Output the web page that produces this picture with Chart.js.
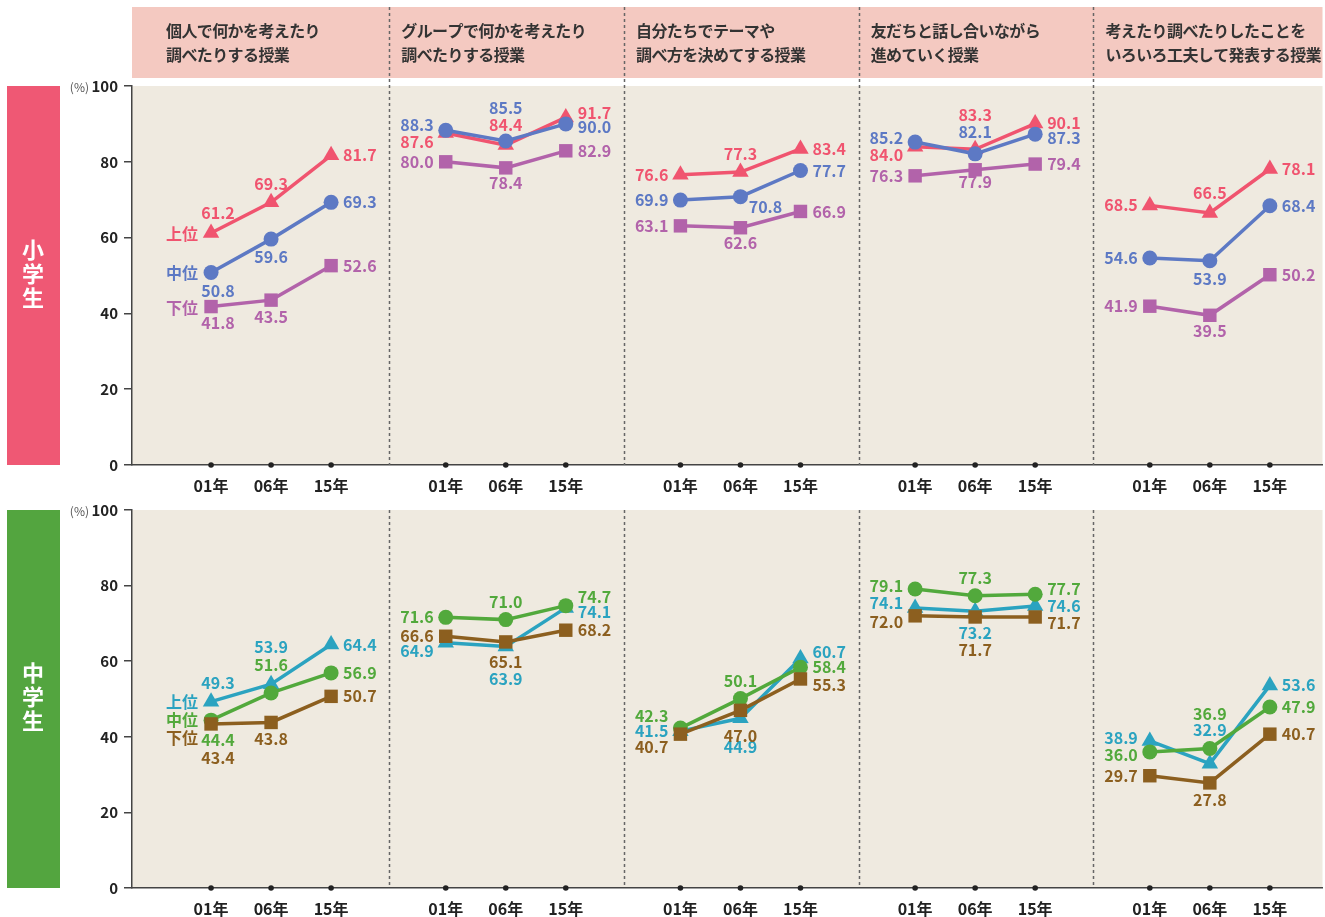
<!DOCTYPE html>
<html lang="ja">
<head>
<meta charset="utf-8">
<script src="https://cdn.jsdelivr.net/npm/chart.js@4.4.1/dist/chart.umd.min.js"></script>
<style>
  body { margin: 0; background: #fff; overflow: hidden; }
  #wrap { position: relative; width: 1325px; height: 917px; overflow: hidden; }
  canvas { position: absolute; left: 0; }
  #elem { top: 0; }
  #junior { top: 497px; }
</style>
</head>
<body>
<div id="wrap">
  <canvas id="elem" width="1325" height="497"></canvas>
  <canvas id="junior" width="1325" height="420"></canvas>
</div>
<script>
const panelTitles = [
  ['個人で何かを考えたり', '調べたりする授業'],
  ['グループで何かを考えたり', '調べたりする授業'],
  ['自分たちでテーマや', '調べ方を決めてする授業'],
  ['友だちと話し合いながら', '進めていく授業'],
  ['考えたり調べたりしたことを', 'いろいろ工夫して発表する授業']
];
const years = ['01年', '06年', '15年'];
const seriesNames = ['上位', '中位', '下位'];
const yTicks = [0, 20, 40, 60, 80, 100];

// 小学生  [panel][01年, 06年, 15年]
const elemUpper  = [[61.2, 69.3, 81.7], [87.6, 84.4, 91.7], [76.6, 77.3, 83.4], [84.0, 83.3, 90.1], [68.5, 66.5, 78.1]];
const elemMiddle = [[50.8, 59.6, 69.3], [88.3, 85.5, 90.0], [69.9, 70.8, 77.7], [85.2, 82.1, 87.3], [54.6, 53.9, 68.4]];
const elemLower  = [[41.8, 43.5, 52.6], [80.0, 78.4, 82.9], [63.1, 62.6, 66.9], [76.3, 77.9, 79.4], [41.9, 39.5, 50.2]];

// 中学生
const juniorUpper  = [[49.3, 53.9, 64.4], [64.9, 63.9, 74.1], [41.5, 44.9, 60.7], [74.1, 73.2, 74.6], [38.9, 32.9, 53.6]];
const juniorMiddle = [[44.4, 51.6, 56.9], [71.6, 71.0, 74.7], [42.3, 50.1, 58.4], [79.1, 77.3, 77.7], [36.0, 36.9, 47.9]];
const juniorLower  = [[43.4, 43.8, 50.7], [66.6, 65.1, 68.2], [40.7, 47.0, 55.3], [72.0, 71.7, 71.7], [29.7, 27.8, 40.7]];

// label placement: direction (A above, B below, L left, R right) + dx + dy
const elemPlace = [
  [['A 7 -2', 'A', 'R'], ['L 0 9', 'A 0 -2', 'R 0 -5'], ['L', 'A', 'R'], ['L 0 8', 'A 0 -16', 'R 0 -1'], ['L', 'A 0 -2', 'R']],
  [['B 7', 'B', 'R'], ['L 0 -5', 'A 0 -15', 'R 0 3'], ['L', 'B 25 -8', 'R'], ['L 0 -4', 'A 0 -4', 'R 0 4'], ['L', 'B', 'R']],
  [['B 7 -2', 'B 0 -1', 'R'], ['L', 'B 0 -3', 'R'], ['L', 'B 0 -3', 'R'], ['L', 'B 0 -6', 'R'], ['L', 'B 0 -2', 'R']]
];
const juniorPlace = [
  [['A 7 -1', 'A 0 -19', 'R'], ['L 0 8', 'B 0 14', 'R 0 4'], ['L', 'B 0 11', 'R 0 -7'], ['L 0 -5', 'B 0 4', 'R'], ['L 0 -3', 'A 0 -16', 'R']],
  [['B 7 2', 'A 0 -10', 'R'], ['L', 'A', 'R 0 -9'], ['L 0 -12', 'A', 'R'], ['L 0 -3', 'A', 'R 0 -5'], ['L 0 3', 'A 0 -17', 'R']],
  [['B 7 16', 'B 0 -2', 'R'], ['L', 'B 0 2', 'R'], ['L 0 13', 'B 0 8', 'R 0 6'], ['L 0 6', 'B 0 15', 'R 0 6'], ['L', 'B 0 -1', 'R']]
];

const GROUP_STEP = 3.91;
const X_MIN = -1.317, X_MAX = 18.517;
const PLOT_RIGHT = 1322;
const FONT = '"Noto Sans CJK JP", "Noto Sans", sans-serif';

function xValue(g, i) { return g * GROUP_STEP + i; }

const xTickValues = [];
for (let g = 0; g < 5; g++) for (let i = 0; i < 3; i++) xTickValues.push(xValue(g, i));

function buildChart(cfg) {
  const styles = ['triangle', 'circle', 'rect'];
  const radii = [9.5, 7.5, 9.5];
  const datasets = [];
  for (let g = 0; g < 5; g++) {
    for (let s = 0; s < 3; s++) {
      datasets.push({
        label: seriesNames[s],
        data: cfg.rows[s][g].map((v, i) => ({ x: xValue(g, i), y: v })),
        borderColor: cfg.colors[s],
        backgroundColor: cfg.colors[s],
        borderWidth: 3.5,
        pointStyle: styles[s],
        pointRadius: radii[s],
        pointHoverRadius: radii[s],
        pointBorderWidth: 0,
        order: 2 - s,
        clip: false
      });
    }
  }

  const decor = {
    id: 'decor',
    beforeDraw(chart) {
      const ctx = chart.ctx, a = chart.chartArea;
      ctx.save();
      ctx.fillStyle = '#fff';
      ctx.fillRect(0, 0, chart.width, chart.height);
      // header band
      if (cfg.header) {
        const xs = chart.scales.x;
        ctx.fillStyle = '#f4c9c1';
        ctx.fillRect(a.left, 7, a.right - a.left, 71);
        ctx.fillStyle = '#333';
        ctx.font = '600 16px ' + FONT;
        ctx.textAlign = 'left';
        ctx.textBaseline = 'middle';
        ctx.letterSpacing = '-0.6px';
        panelTitles.forEach((t, g) => {
          const left = g === 0 ? 166 : xs.getPixelForValue(g * GROUP_STEP - 0.94) + 12;
          ctx.fillText(t[0], left, 31);
          ctx.fillText(t[1], left, 55);
        });
        ctx.letterSpacing = '0px';
      }
      // side block
      ctx.fillStyle = cfg.blockColor;
      ctx.fillRect(7, a.top, 53, a.bottom - a.top);
      ctx.fillStyle = '#fff';
      ctx.font = 'bold 22px ' + FONT;
      ctx.textAlign = 'center';
      ctx.textBaseline = 'middle';
      const cy = (a.top + a.bottom) / 2;
      [...cfg.blockText].forEach((ch, k) => ctx.fillText(ch, 33, cy + (k - 1) * 24 - 2));
      // plot background
      ctx.fillStyle = '#efeae0';
      ctx.fillRect(a.left, a.top, a.right - a.left, a.bottom - a.top);
      ctx.restore();
    },
    beforeDatasetsDraw(chart) {
      const ctx = chart.ctx, a = chart.chartArea, xs = chart.scales.x;
      ctx.save();
      ctx.strokeStyle = '#666';
      ctx.lineWidth = 1.5;
      ctx.setLineDash([3, 3]);
      for (let g = 1; g < 5; g++) {
        const x = Math.round(xs.getPixelForValue(g * GROUP_STEP - 0.94)) + 0.5;
        ctx.beginPath();
        ctx.moveTo(x, cfg.header ? 7 : a.top);
        ctx.lineTo(x, a.bottom);
        ctx.stroke();
      }
      ctx.restore();
    },
    afterDatasetsDraw(chart) {
      const ctx = chart.ctx, a = chart.chartArea, xs = chart.scales.x;
      ctx.save();
      ctx.font = 'bold 16px ' + FONT;
      ctx.textBaseline = 'middle';
      for (let g = 0; g < 5; g++) {
        for (let s = 0; s < 3; s++) {
          const meta = chart.getDatasetMeta(g * 3 + s);
          ctx.fillStyle = cfg.colors[s];
          meta.data.forEach((pt, i) => {
            const parts = cfg.place[s][g][i].split(' ');
            const dx = +(parts[1] || 0), dy = +(parts[2] || 0);
            let x = pt.x + dx, y = pt.y + dy;
            if (parts[0] === 'A') { y -= 18; ctx.textAlign = 'center'; }
            else if (parts[0] === 'B') { y += 18; ctx.textAlign = 'center'; }
            else if (parts[0] === 'L') { x -= 12; ctx.textAlign = 'right'; }
            else { x += 12; ctx.textAlign = 'left'; }
            ctx.fillText(cfg.rows[s][g][i].toFixed(1), x, y);
          });
          if (g === 0) {
            const first = meta.data[0];
            ctx.textAlign = 'right';
            ctx.fillText(seriesNames[s], first.x - 13, first.y + cfg.nameShift[s]);
          }
        }
      }
      // axis dots
      ctx.fillStyle = '#222';
      xTickValues.forEach(v => {
        ctx.beginPath();
        ctx.arc(xs.getPixelForValue(v), a.bottom, 2.8, 0, Math.PI * 2);
        ctx.fill();
      });
      // (%) mark
      ctx.fillStyle = '#555';
      ctx.font = '12px ' + FONT;
      ctx.textAlign = 'right';
      ctx.fillText('(%)', 89, a.top + 1);
      ctx.restore();
    }
  };

  return new Chart(document.getElementById(cfg.id).getContext('2d'), {
    type: 'line',
    data: { datasets },
    options: {
      responsive: false,
      animation: false,
      devicePixelRatio: 1,
      events: [],
      layout: { padding: { top: cfg.plotTop, right: 3, left: 0, bottom: 0 } },
      plugins: { legend: { display: false }, tooltip: { enabled: false } },
      scales: {
        x: {
          type: 'linear',
          min: X_MIN,
          max: X_MAX,
          grid: { display: false },
          border: { display: true, color: '#444', width: 1.5 },
          afterBuildTicks: s => { s.ticks = xTickValues.map(v => ({ value: v })); },
          afterFit: s => { s.height = cfg.axisHeight; s.paddingLeft = 0; s.paddingRight = 0; },
          ticks: {
            autoSkip: false,
            maxRotation: 0,
            padding: 3,
            color: '#222',
            font: { family: FONT, size: 16, weight: '600' },
            callback: (v, i) => years[i % 3]
          }
        },
        y: {
          min: 0,
          max: 100,
          afterBuildTicks: s => { s.ticks = yTicks.map(v => ({ value: v })); },
          afterFit: s => { s.width = 132; s.paddingTop = 0; s.paddingBottom = 0; },
          grid: { drawOnChartArea: false, drawTicks: true, tickLength: 8, color: '#444', lineWidth: 1.5 },
          border: { display: true, color: '#444', width: 1.5 },
          ticks: {
            padding: 6,
            color: '#222',
            font: { family: FONT, size: 15, weight: '600' }
          }
        }
      }
    },
    plugins: [decor]
  });
}

// build once, then widen the canvas so the plot area ends at PLOT_RIGHT
function makeChart(cfg) {
  let chart = buildChart(cfg);
  const gap = PLOT_RIGHT - chart.chartArea.right;
  if (Math.abs(gap) > 0.5) {
    chart.destroy();
    const cv = document.getElementById(cfg.id);
    cv.width = Math.round(1325 + gap);
    cv.style.width = cv.width + 'px';
    chart = buildChart(cfg);
  }
  return chart;
}

makeChart({
  id: 'elem',
  header: true,
  plotTop: 86,
  axisHeight: 32,
  rows: [elemUpper, elemMiddle, elemLower],
  place: elemPlace,
  nameShift: [1, 0, 1],
  colors: ['#f0546f', '#5d79c4', '#b263aa'],
  blockColor: '#ef5874',
  blockText: '小学生'
});

makeChart({
  id: 'junior',
  header: false,
  plotTop: 13,
  axisHeight: 29,
  rows: [juniorUpper, juniorMiddle, juniorLower],
  place: juniorPlace,
  nameShift: [0, 0, 14],
  colors: ['#2ba3c0', '#52a93c', '#8c5f1f'],
  blockColor: '#53a53f',
  blockText: '中学生'
});
</script>
</body>
</html>
